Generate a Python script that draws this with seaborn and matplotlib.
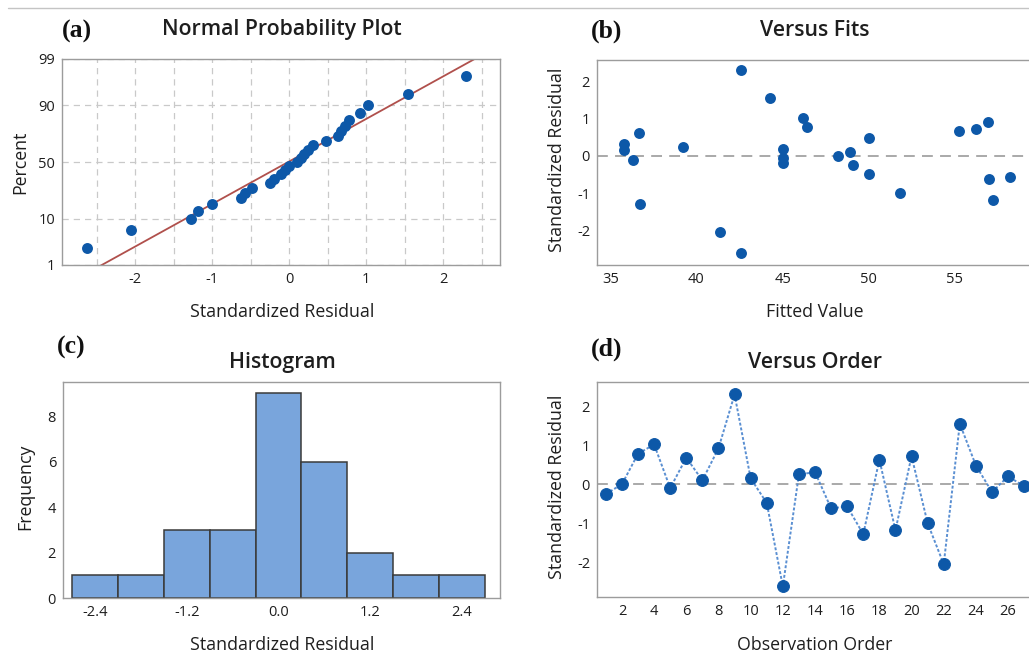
import numpy as np
import pandas as pd
import matplotlib
matplotlib.use("Agg")
import matplotlib.pyplot as plt
import seaborn as sns
from matplotlib.lines import Line2D
from statistics import NormalDist

# residuals in observation order and the fitted values that go with them
order = list(range(1, 28))
std_resid = [-0.25, 0.00, 0.78, 1.02, -0.10, 0.68, 0.10, 0.92, 2.30, 0.15,
             -0.48, -2.62, 0.25, 0.31, -0.62, -0.57, -1.28, 0.63, -1.18, 0.72,
             -1.00, -2.05, 1.55, 0.48, -0.20, 0.20, -0.05]
fitted = [49.1, 48.2, 46.4, 46.2, 36.3, 55.25, 48.9, 56.9, 42.56, 35.77,
          50.0, 42.56, 39.2, 35.77, 57.0, 58.2, 36.74, 36.64, 57.2, 56.2,
          51.8, 41.38, 44.26, 50.0, 45.0, 45.0, 45.0]

prob_ticks = [1, 10, 50, 90, 99]
hist_ticks = [-2.4, -1.2, 0.0, 1.2, 2.4]
hist_edges = np.linspace(-2.7, 2.7, 10)

df = pd.DataFrame({"order": order, "resid": std_resid, "fit": fitted})

# normal probability plot positions (median ranks)
n = len(df)
srt = np.sort(df["resid"].values)
pct = 100 * (np.arange(1, n + 1) - 0.3) / (n + 0.4)
mu, sd = df["resid"].mean(), df["resid"].std()

sns.set_theme(style="white")
plt.rcParams["font.family"] = ["Open Sans", "DejaVu Sans"]
plt.rcParams["axes.unicode_minus"] = False

W, H = 1029, 655
fig = plt.figure(figsize=(W / 100, H / 100), dpi=100)

def box(l, t, r, b):
    return [l / W, 1 - b / H, (r - l) / W, (b - t) / H]

ax_a = fig.add_axes(box(62, 59, 500, 265))
ax_b = fig.add_axes(box(597, 60, 1029, 265))
ax_c = fig.add_axes(box(63, 382, 500, 598))
ax_d = fig.add_axes(box(597, 382, 1029, 597))

blue = "#0d58a8"
spine_c = "#9c9c9c"
grid_c = "#c9c9c9"
txt_c = "#1e1e1e"

nd = NormalDist()
def fwd(p):
    p = np.clip(np.asarray(p, dtype=float), 1e-4, 100 - 1e-4) / 100
    return np.vectorize(nd.inv_cdf, otypes=[float])(p)
def inv(z):
    return np.vectorize(nd.cdf, otypes=[float])(np.asarray(z, dtype=float)) * 100

# (a) normal probability plot
ax_a.set_yscale("function", functions=(fwd, inv))
pline = np.array([0.5, 1, 10, 50, 90, 99, 99.5])
ax_a.plot(mu + sd * np.array([nd.inv_cdf(p / 100) for p in pline]), pline,
          color="#b0504c", lw=1.3, zorder=2)
sns.scatterplot(x=srt, y=pct, ax=ax_a, color=blue, s=62, edgecolor=blue,
                linewidth=0, zorder=3)
ax_a.set_ylim(1, 99)
ax_a.set_xlim(-2.95, 2.74)
ax_a.set_yticks(prob_ticks)
ax_a.set_yticklabels([str(t) for t in prob_ticks])
ax_a.yaxis.set_minor_locator(matplotlib.ticker.NullLocator())
ax_a.set_xticks([-2, -1, 0, 1, 2])
ax_a.set_xticks(np.arange(-2.5, 2.6, 1.0), minor=True)
ax_a.grid(True, which="both", axis="x", color=grid_c, ls=(0, (5, 4)), lw=0.9)
ax_a.grid(True, which="major", axis="y", color=grid_c, ls=(0, (5, 4)), lw=0.9)
ax_a.set_axisbelow(True)

# (b) versus fits
ax_b.axhline(0, color="#a3a3a3", ls=(0, (6, 4)), lw=1.3, zorder=1)
sns.scatterplot(data=df, x="fit", y="resid", ax=ax_b, color=blue, s=62,
                edgecolor=blue, linewidth=0, zorder=3)
ax_b.set_xlim(34.23, 59.3)
ax_b.set_ylim(-2.93, 2.58)
ax_b.set_xticks([35, 40, 45, 50, 55])
ax_b.set_yticks([-2, -1, 0, 1, 2])

# (c) histogram
sns.histplot(data=df, x="resid", bins=hist_edges, ax=ax_c, color="#79a5dc",
             edgecolor="#3a3a3a", linewidth=1.1, alpha=1)
ax_c.set_xlim(-2.82, 2.90)
ax_c.set_ylim(0, 9.5)
ax_c.set_xticks(hist_ticks)
ax_c.set_xticklabels([f"{t:.1f}" for t in hist_ticks])
ax_c.set_yticks([0, 2, 4, 6, 8])

# (d) versus order
ax_d.axhline(0, color="#a3a3a3", ls=(0, (6, 4)), lw=1.3, zorder=1)
sns.lineplot(data=df, x="order", y="resid", ax=ax_d, color="#5a8fd2",
             lw=1.4, ls=(0, (1.5, 1.0)), marker="o", markersize=8.5,
             markerfacecolor=blue, markeredgecolor=blue, zorder=3)
ax_d.set_xlim(0.45, 27.3)
ax_d.set_ylim(-2.89, 2.62)
ax_d.set_xticks(list(range(2, 27, 2)))
ax_d.set_yticks([-2, -1, 0, 1, 2])

labels = {
    ax_a: ("Standardized Residual", "Percent"),
    ax_b: ("Fitted Value", "Standardized Residual"),
    ax_c: ("Standardized Residual", "Frequency"),
    ax_d: ("Observation Order", "Standardized Residual"),
}
for ax, (xl, yl) in labels.items():
    for s in ax.spines.values():
        s.set_color(spine_c)
        s.set_linewidth(1.0)
    ax.tick_params(which="major", length=3, width=0.8, color=spine_c,
                   labelsize=10.5, labelcolor=txt_c, pad=2)
    ax.tick_params(which="minor", length=0)
    ax.set_xlabel(xl, fontsize=12.8, color=txt_c)
    ax.set_ylabel(yl, fontsize=12.8, color=txt_c)
    ax.xaxis.label.set_va("center")
    ax.yaxis.label.set_va("center")

for ax in (ax_b, ax_d):
    ax.spines["right"].set_visible(False)

ax_a.xaxis.set_label_coords((282 - 62) / (500 - 62), (265 - 312) / (265 - 59))
ax_a.yaxis.set_label_coords((20 - 62) / (500 - 62), (265 - 162) / (265 - 59))
ax_b.xaxis.set_label_coords((815 - 597) / (1029 - 597), (265 - 312) / (265 - 60))
ax_b.yaxis.set_label_coords((557 - 597) / (1029 - 597), (265 - 160) / (265 - 60))
ax_c.xaxis.set_label_coords((282 - 63) / (500 - 63), (598 - 645) / (598 - 382))
ax_c.yaxis.set_label_coords((25 - 63) / (500 - 63), (598 - 487) / (598 - 382))
ax_d.xaxis.set_label_coords((815 - 597) / (1029 - 597), (597 - 645) / (597 - 382))
ax_d.yaxis.set_label_coords((557 - 597) / (1029 - 597), (597 - 487) / (597 - 382))

# panel titles and letters
titles = [("Normal Probability Plot", 282, 30), ("Versus Fits", 815, 30),
          ("Histogram", 282, 362), ("Versus Order", 815, 362)]
for t, x, y in titles:
    fig.text(x / W, 1 - y / H, t, ha="center", va="center", fontsize=15.3,
             fontweight="semibold", color=txt_c)
letters = [("(a)", 77, 31), ("(b)", 607, 31), ("(c)", 71, 347), ("(d)", 607, 349)]
for t, x, y in letters:
    fig.text(x / W, 1 - y / H, t, ha="center", va="center", fontsize=18.5,
             fontweight="bold", family=["Liberation Serif", "DejaVu Serif"], color="#111111")

fig.add_artist(Line2D([8 / W, 1], [1 - 8 / H, 1 - 8 / H], color="#c4c4c4", lw=1))

fig.savefig("out.png", dpi=100)
